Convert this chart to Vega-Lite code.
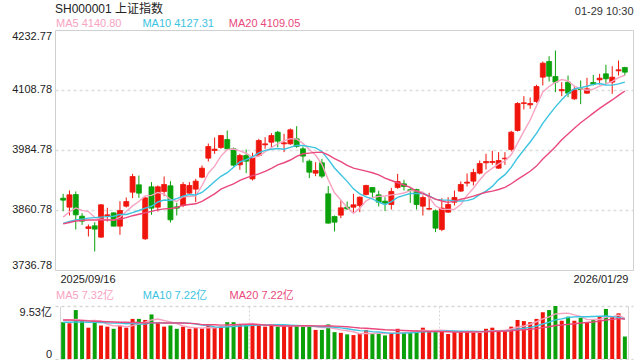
{
 "$schema": "https://vega.github.io/schema/vega-lite/v6.json",
 "background": "white",
 "padding": {"left": 11, "top": 2, "right": 7, "bottom": 1},
 "title": {"text": "01-29 10:30", "anchor": "end", "fontSize": 11, "fontWeight": "normal", "color": "#333", "offset": -14},
 "config": {
  "font": "Liberation Sans, Noto Sans CJK SC, sans-serif",
  "axis": {"labelFont": "Liberation Sans, Noto Sans CJK SC, sans-serif", "labelFontSize": 11, "labelColor": "#333"},
  "legend": {"labelFont": "Liberation Sans, Noto Sans CJK SC, sans-serif", "labelFontSize": 11, "symbolSize": 0, "symbolStrokeWidth": 0},
  "title": {"font": "Liberation Sans, Noto Sans CJK SC, sans-serif"}
 },
 "datasets": {
  "k": [
{"i":1,"d":"2025-09-16","o":3885.2,"h":3894.2,"l":3858.4,"c":3881.1,"v":6.62,"m5":3846,"m10":3833,"m20":3832,"vm5":7.0,"vm10":6.6,"vm20":7.0},
{"i":2,"d":"2025-09-17","o":3866.6,"h":3901.1,"l":3849.4,"c":3892.1,"v":6.42,"m5":3857,"m10":3837,"m20":3835,"vm5":7.0,"vm10":6.6,"vm20":7.0},
{"i":3,"d":"2025-09-18","o":3892.8,"h":3899.1,"l":3820.5,"c":3850.8,"v":8.80,"m5":3865,"m10":3840,"m20":3838,"vm5":7.1,"vm10":6.65,"vm20":6.95},
{"i":4,"d":"2025-09-19","o":3848.0,"h":3854.2,"l":3830.1,"c":3837.7,"v":6.88,"m5":3860,"m10":3842,"m20":3839,"vm5":7.0,"vm10":6.65,"vm20":6.9},
{"i":5,"d":"2025-09-22","o":3822.6,"h":3830.8,"l":3806.0,"c":3826.0,"v":5.63,"m5":3857.5,"m10":3844,"m20":3840,"vm5":6.87,"vm10":6.6,"vm20":6.85},
{"i":6,"d":"2025-09-23","o":3828.1,"h":3835.6,"l":3775.0,"c":3821.2,"v":6.88,"m5":3845.6,"m10":3845,"m20":3840,"vm5":6.92,"vm10":6.6,"vm20":6.8},
{"i":7,"d":"2025-09-24","o":3804.7,"h":3872.8,"l":3803.3,"c":3871.5,"v":6.02,"m5":3841.4,"m10":3846,"m20":3840,"vm5":6.84,"vm10":6.55,"vm20":6.75},
{"i":8,"d":"2025-09-25","o":3848.7,"h":3865.3,"l":3837.0,"c":3850.8,"v":5.82,"m5":3841.4,"m10":3847,"m20":3840,"vm5":6.25,"vm10":6.5,"vm20":6.7},
{"i":9,"d":"2025-09-26","o":3854.9,"h":3855.6,"l":3827.0,"c":3827.4,"v":5.43,"m5":3839.4,"m10":3848,"m20":3840,"vm5":5.96,"vm10":6.45,"vm20":6.65},
{"i":10,"d":"2025-09-29","o":3827.4,"h":3879.0,"l":3809.5,"c":3859.8,"v":5.96,"m5":3846.1,"m10":3851.8,"m20":3842,"vm5":6.02,"vm10":6.45,"vm20":6.6},
{"i":11,"d":"2025-09-30","o":3868.7,"h":3886.6,"l":3865.9,"c":3878.3,"v":5.63,"m5":3857.6,"m10":3851.6,"m20":3845,"vm5":5.77,"vm10":6.35,"vm20":6.6},
{"i":12,"d":"2025-10-09","o":3897.6,"h":3935.5,"l":3885.2,"c":3930.0,"v":7.21,"m5":3869.3,"m10":3855.4,"m20":3849,"vm5":6.01,"vm10":6.43,"vm20":6.55},
{"i":13,"d":"2025-10-10","o":3912.8,"h":3932.1,"l":3885.9,"c":3895.6,"v":7.21,"m5":3878.2,"m10":3859.8,"m20":3852,"vm5":6.29,"vm10":6.27,"vm20":6.55},
{"i":14,"d":"2025-10-13","o":3801.2,"h":3887.3,"l":3799.1,"c":3885.9,"v":7.02,"m5":3889.9,"m10":3864.7,"m20":3855,"vm5":6.61,"vm10":6.28,"vm20":6.5},
{"i":15,"d":"2025-10-14","o":3908.7,"h":3918.4,"l":3850.8,"c":3864.6,"v":8.01,"m5":3890.9,"m10":3868.5,"m20":3858,"vm5":7.02,"vm10":6.52,"vm20":6.5},
{"i":16,"d":"2025-10-15","o":3866.6,"h":3911.5,"l":3857.7,"c":3908.7,"v":6.55,"m5":3897.0,"m10":3877.3,"m20":3861,"vm5":7.20,"vm10":6.49,"vm20":6.5},
{"i":17,"d":"2025-10-16","o":3899.1,"h":3930.0,"l":3889.4,"c":3913.5,"v":5.82,"m5":3893.7,"m10":3881.5,"m20":3863,"vm5":6.92,"vm10":6.47,"vm20":6.48},
{"i":18,"d":"2025-10-17","o":3910.8,"h":3920.4,"l":3834.9,"c":3840.5,"v":6.02,"m5":3882.6,"m10":3880.4,"m20":3864,"vm5":6.68,"vm10":6.49,"vm20":6.47},
{"i":19,"d":"2025-10-20","o":3867.3,"h":3875.6,"l":3849.4,"c":3864.6,"v":5.43,"m5":3878.4,"m10":3884.2,"m20":3866,"vm5":6.37,"vm10":6.49,"vm20":6.46},
{"i":20,"d":"2025-10-21","o":3870.1,"h":3918.4,"l":3866.6,"c":3913.5,"v":5.82,"m5":3888.2,"m10":3889.5,"m20":3870.7,"vm5":5.93,"vm10":6.47,"vm20":6.46},
{"i":21,"d":"2025-10-22","o":3895.6,"h":3918.4,"l":3894.2,"c":3911.5,"v":5.43,"m5":3888.7,"m10":3892.8,"m20":3872.2,"vm5":5.70,"vm10":6.45,"vm20":6.40},
{"i":22,"d":"2025-10-23","o":3903.9,"h":3925.2,"l":3876.9,"c":3920.4,"v":5.56,"m5":3890.1,"m10":3891.9,"m20":3873.6,"vm5":5.65,"vm10":6.29,"vm20":6.36},
{"i":23,"d":"2025-10-24","o":3928.6,"h":3952.8,"l":3926.6,"c":3947.2,"v":5.49,"m5":3911.4,"m10":3897.0,"m20":3878.4,"vm5":5.55,"vm10":6.12,"vm20":6.19},
{"i":24,"d":"2025-10-27","o":3967.9,"h":3998.2,"l":3961.0,"c":3992.0,"v":6.02,"m5":3936.9,"m10":3907.7,"m20":3886.2,"vm5":5.66,"vm10":6.02,"vm20":6.15},
{"i":25,"d":"2025-10-28","o":3983.8,"h":4010.6,"l":3976.9,"c":3986.5,"v":5.63,"m5":3951.5,"m10":3919.8,"m20":3894.2,"vm5":5.63,"vm10":5.78,"vm20":6.15},
{"i":26,"d":"2025-10-29","o":3989.9,"h":4016.1,"l":3987.2,"c":4014.7,"v":5.82,"m5":3972.2,"m10":3930.4,"m20":3903.9,"vm5":5.70,"vm10":5.70,"vm20":6.10},
{"i":27,"d":"2025-10-30","o":4006.5,"h":4025.1,"l":3985.2,"c":3987.2,"v":6.62,"m5":3985.5,"m10":3937.8,"m20":3909.6,"vm5":5.92,"vm10":5.78,"vm20":6.13},
{"i":28,"d":"2025-10-31","o":3987.2,"h":3989.9,"l":3950.7,"c":3953.4,"v":6.62,"m5":3986.8,"m10":3949.1,"m20":3914.8,"vm5":6.14,"vm10":5.84,"vm20":6.17},
{"i":29,"d":"2025-11-03","o":3954.1,"h":3976.9,"l":3943.8,"c":3973.4,"v":6.29,"m5":3983.0,"m10":3960.0,"m20":3922.1,"vm5":6.20,"vm10":5.93,"vm20":6.21},
{"i":30,"d":"2025-11-04","o":3973.4,"h":3985.8,"l":3936.9,"c":3961.7,"v":6.22,"m5":3978.1,"m10":3964.8,"m20":3927.2,"vm5":6.31,"vm10":5.97,"vm20":6.22},
{"i":31,"d":"2025-11-05","o":3925.0,"h":3979.0,"l":3921.8,"c":3969.0,"v":6.09,"m5":3968.9,"m10":3970.6,"m20":3931.7,"vm5":6.37,"vm10":6.04,"vm20":6.24},
{"i":32,"d":"2025-11-06","o":3973.4,"h":4007.9,"l":3971.4,"c":4004.4,"v":6.09,"m5":3972.4,"m10":3979.0,"m20":3935.4,"vm5":6.26,"vm10":6.09,"vm20":6.19},
{"i":33,"d":"2025-11-07","o":3995.5,"h":4011.3,"l":3987.2,"c":3997.5,"v":5.82,"m5":3981.2,"m10":3984.0,"m20":3940.5,"vm5":6.10,"vm10":6.12,"vm20":6.12},
{"i":34,"d":"2025-11-10","o":4000.9,"h":4019.6,"l":3990.6,"c":4014.7,"v":6.15,"m5":3989.5,"m10":3986.3,"m20":3947.0,"vm5":6.07,"vm10":6.14,"vm20":6.08},
{"i":35,"d":"2025-11-11","o":4021.6,"h":4024.4,"l":3990.6,"c":4003.0,"v":5.82,"m5":3997.7,"m10":3987.9,"m20":3953.9,"vm5":5.99,"vm10":6.15,"vm20":5.97},
{"i":36,"d":"2025-11-12","o":3997.5,"h":4018.2,"l":3980.3,"c":3999.6,"v":5.96,"m5":4003.8,"m10":3986.4,"m20":3958.4,"vm5":5.97,"vm10":6.17,"vm20":5.94},
{"i":37,"d":"2025-11-13","o":3997.5,"h":4029.2,"l":3995.5,"c":4026.5,"v":5.96,"m5":4008.3,"m10":3990.3,"m20":3964.1,"vm5":5.94,"vm10":6.10,"vm20":5.94},
{"i":38,"d":"2025-11-14","o":4007.9,"h":4034.0,"l":3989.3,"c":3992.0,"v":6.09,"m5":4007.2,"m10":3994.2,"m20":3971.6,"vm5":6.00,"vm10":6.05,"vm20":5.95},
{"i":39,"d":"2025-11-17","o":3987.2,"h":3992.0,"l":3959.0,"c":3972.1,"v":5.82,"m5":3998.6,"m10":3994.1,"m20":3977.0,"vm5":5.93,"vm10":6.00,"vm20":5.97},
{"i":40,"d":"2025-11-18","o":3961.7,"h":3965.2,"l":3926.6,"c":3939.0,"v":5.82,"m5":3985.8,"m10":3991.8,"m20":3978.3,"vm5":5.93,"vm10":5.96,"vm20":5.97},
{"i":41,"d":"2025-11-19","o":3936.9,"h":3959.6,"l":3930.7,"c":3942.4,"v":5.23,"m5":3974.4,"m10":3989.1,"m20":3979.8,"vm5":5.78,"vm10":5.88,"vm20":5.96},
{"i":42,"d":"2025-11-20","o":3958.3,"h":3966.5,"l":3926.6,"c":3930.7,"v":5.23,"m5":3955.2,"m10":3981.8,"m20":3980.4,"vm5":5.64,"vm10":5.79,"vm20":5.94},
{"i":43,"d":"2025-11-21","o":3894.2,"h":3910.1,"l":3832.9,"c":3833.6,"v":6.22,"m5":3923.6,"m10":3965.4,"m20":3974.7,"vm5":5.66,"vm10":5.83,"vm20":5.98},
{"i":44,"d":"2025-11-24","o":3847.3,"h":3849.4,"l":3816.4,"c":3835.6,"v":4.83,"m5":3896.3,"m10":3947.5,"m20":3966.9,"vm5":5.47,"vm10":5.70,"vm20":5.92},
{"i":45,"d":"2025-11-25","o":3850.1,"h":3881.1,"l":3843.9,"c":3865.3,"v":4.70,"m5":3881.5,"m10":3933.7,"m20":3960.8,"vm5":5.24,"vm10":5.59,"vm20":5.87},
{"i":46,"d":"2025-11-26","o":3866.6,"h":3878.3,"l":3861.1,"c":3863.2,"v":4.43,"m5":3865.7,"m10":3920.0,"m20":3953.2,"vm5":5.08,"vm10":5.43,"vm20":5.80},
{"i":47,"d":"2025-11-27","o":3866.6,"h":3894.2,"l":3856.3,"c":3871.5,"v":4.30,"m5":3853.8,"m10":3904.5,"m20":3947.4,"vm5":4.90,"vm10":5.27,"vm20":5.68},
{"i":48,"d":"2025-11-28","o":3870.1,"h":3888.7,"l":3856.3,"c":3887.3,"v":4.50,"m5":3864.6,"m10":3894.1,"m20":3944.1,"vm5":4.55,"vm10":5.11,"vm20":5.58},
{"i":49,"d":"2025-12-01","o":3892.8,"h":3912.8,"l":3890.8,"c":3911.5,"v":5.23,"m5":3879.8,"m10":3888.0,"m20":3941.0,"vm5":4.63,"vm10":5.05,"vm20":5.53},
{"i":50,"d":"2025-12-02","o":3907.3,"h":3908.0,"l":3887.3,"c":3897.6,"v":4.50,"m5":3886.2,"m10":3883.9,"m20":3937.8,"vm5":4.59,"vm10":4.92,"vm20":5.44},
{"i":51,"d":"2025-12-03","o":3892.1,"h":3900.5,"l":3868.0,"c":3876.9,"v":4.57,"m5":3889.0,"m10":3877.3,"m20":3933.2,"vm5":4.62,"vm10":4.85,"vm20":5.36},
{"i":52,"d":"2025-12-04","o":3879.0,"h":3887.3,"l":3858.4,"c":3874.9,"v":4.24,"m5":3889.6,"m10":3871.7,"m20":3926.7,"vm5":4.61,"vm10":4.75,"vm20":5.27},
{"i":53,"d":"2025-12-05","o":3872.1,"h":3906.6,"l":3861.8,"c":3899.1,"v":4.70,"m5":3892.0,"m10":3878.3,"m20":3921.8,"vm5":4.65,"vm10":4.60,"vm20":5.22},
{"i":54,"d":"2025-12-08","o":3907.3,"h":3935.5,"l":3904.6,"c":3919.7,"v":5.43,"m5":3893.6,"m10":3886.7,"m20":3917.1,"vm5":4.69,"vm10":4.66,"vm20":5.18},
{"i":55,"d":"2025-12-09","o":3914.9,"h":3923.1,"l":3901.1,"c":3909.4,"v":4.83,"m5":3896.0,"m10":3891.1,"m20":3912.4,"vm5":4.75,"vm10":4.67,"vm20":5.13},
{"i":56,"d":"2025-12-10","o":3902.5,"h":3906.0,"l":3875.6,"c":3901.1,"v":4.83,"m5":3900.8,"m10":3894.9,"m20":3907.5,"vm5":4.81,"vm10":4.71,"vm20":5.07},
{"i":57,"d":"2025-12-11","o":3903.2,"h":3904.6,"l":3861.8,"c":3872.1,"v":5.10,"m5":3900.3,"m10":3895.0,"m20":3899.8,"vm5":4.98,"vm10":4.79,"vm20":5.03},
{"i":58,"d":"2025-12-12","o":3868.7,"h":3890.8,"l":3849.4,"c":3886.6,"v":5.63,"m5":3897.8,"m10":3894.9,"m20":3894.5,"vm5":5.16,"vm10":4.91,"vm20":5.01},
{"i":59,"d":"2025-12-15","o":3862.5,"h":3896.3,"l":3861.8,"c":3863.9,"v":5.10,"m5":3886.6,"m10":3890.1,"m20":3889.1,"vm5":5.10,"vm10":4.89,"vm20":4.97},
{"i":60,"d":"2025-12-16","o":3859.1,"h":3861.8,"l":3815.0,"c":3823.2,"v":5.10,"m5":3869.4,"m10":3882.7,"m20":3883.3,"vm5":5.15,"vm10":4.95,"vm20":4.94},
{"i":61,"d":"2025-12-17","o":3820.5,"h":3885.2,"l":3817.0,"c":3864.6,"v":5.03,"m5":3862.1,"m10":3881.5,"m20":3879.4,"vm5":5.19,"vm10":5.00,"vm20":4.93},
{"i":62,"d":"2025-12-18","o":3856.3,"h":3887.3,"l":3854.9,"c":3872.1,"v":4.50,"m5":3862.1,"m10":3881.2,"m20":3876.5,"vm5":5.07,"vm10":5.03,"vm20":4.89},
{"i":63,"d":"2025-12-19","o":3876.9,"h":3901.1,"l":3870.1,"c":3886.6,"v":4.96,"m5":3862.1,"m10":3879.9,"m20":3879.1,"vm5":4.94,"vm10":5.05,"vm20":4.83},
{"i":64,"d":"2025-12-22","o":3899.8,"h":3919.7,"l":3898.4,"c":3913.5,"v":4.96,"m5":3872.0,"m10":3879.3,"m20":3883.0,"vm5":4.91,"vm10":5.00,"vm20":4.83},
{"i":65,"d":"2025-12-23","o":3916.3,"h":3936.2,"l":3909.4,"c":3918.4,"v":5.03,"m5":3891.0,"m10":3880.2,"m20":3885.7,"vm5":4.90,"vm10":5.02,"vm20":4.85},
{"i":66,"d":"2025-12-24","o":3920.4,"h":3945.9,"l":3911.5,"c":3938.3,"v":4.70,"m5":3905.8,"m10":3883.9,"m20":3889.4,"vm5":4.83,"vm10":5.01,"vm20":4.86},
{"i":67,"d":"2025-12-25","o":3936.9,"h":3963.1,"l":3934.2,"c":3956.9,"v":4.70,"m5":3922.7,"m10":3892.4,"m20":3893.7,"vm5":4.87,"vm10":4.97,"vm20":4.88},
{"i":68,"d":"2025-12-26","o":3958.3,"h":3976.9,"l":3944.5,"c":3961.0,"v":5.43,"m5":3937.6,"m10":3899.9,"m20":3897.4,"vm5":4.96,"vm10":4.95,"vm20":4.93},
{"i":69,"d":"2025-12-29","o":3959.0,"h":3983.1,"l":3954.1,"c":3961.0,"v":5.63,"m5":3947.1,"m10":3909.6,"m20":3899.8,"vm5":5.10,"vm10":5.00,"vm20":4.95},
{"i":70,"d":"2025-12-30","o":3947.2,"h":3980.3,"l":3945.9,"c":3963.1,"v":5.10,"m5":3956.1,"m10":3923.6,"m20":3903.1,"vm5":5.11,"vm10":5.00,"vm20":4.98},
{"i":71,"d":"2025-12-31","o":3966.5,"h":3980.3,"l":3954.1,"c":3967.9,"v":4.96,"m5":3962.0,"m10":3933.9,"m20":3907.7,"vm5":5.16,"vm10":5.00,"vm20":5.00},
{"i":72,"d":"2026-01-05","o":3985.8,"h":4024.4,"l":3981.7,"c":4021.6,"v":5.82,"m5":3974.9,"m10":3948.8,"m20":3915.0,"vm5":5.39,"vm10":5.13,"vm20":5.08},
{"i":73,"d":"2026-01-06","o":4025.1,"h":4083.6,"l":4023.0,"c":4080.9,"v":7.02,"m5":3998.9,"m10":3968.3,"m20":3924.1,"vm5":5.71,"vm10":5.34,"vm20":5.19},
{"i":74,"d":"2026-01-07","o":4080.9,"h":4096.0,"l":4068.5,"c":4082.3,"v":6.82,"m5":4023.2,"m10":3985.1,"m20":3932.2,"vm5":5.94,"vm10":5.52,"vm20":5.26},
{"i":75,"d":"2026-01-08","o":4078.1,"h":4093.3,"l":4069.9,"c":4080.9,"v":6.62,"m5":4046.7,"m10":4001.4,"m20":3940.8,"vm5":6.25,"vm10":5.68,"vm20":5.35},
{"i":76,"d":"2026-01-09","o":4085.0,"h":4119.5,"l":4082.3,"c":4116.0,"v":7.21,"m5":4076.3,"m10":4019.2,"m20":3951.5,"vm5":6.70,"vm10":5.93,"vm20":5.47},
{"i":77,"d":"2026-01-12","o":4135.3,"h":4167.7,"l":4118.1,"c":4164.2,"v":8.41,"m5":4104.9,"m10":4039.9,"m20":3966.2,"vm5":7.22,"vm10":6.30,"vm20":5.64},
{"i":78,"d":"2026-01-13","o":4167.7,"h":4178.7,"l":4126.3,"c":4137.3,"v":8.80,"m5":4116.1,"m10":4057.5,"m20":3978.7,"vm5":7.57,"vm10":6.64,"vm20":5.80},
{"i":79,"d":"2026-01-14","o":4136.7,"h":4190.4,"l":4104.3,"c":4125.0,"v":9.53,"m5":4124.7,"m10":4073.9,"m20":3991.7,"vm5":8.11,"vm10":7.03,"vm20":6.02},
{"i":80,"d":"2026-01-15","o":4107.1,"h":4125.0,"l":4096.0,"c":4109.8,"v":6.88,"m5":4130.5,"m10":4088.6,"m20":4006.1,"vm5":8.17,"vm10":7.21,"vm20":6.11},
{"i":81,"d":"2026-01-16","o":4125.0,"h":4138.7,"l":4094.0,"c":4102.2,"v":7.61,"m5":4127.7,"m10":4102.0,"m20":4018.0,"vm5":8.25,"vm10":7.47,"vm20":6.23},
{"i":82,"d":"2026-01-19","o":4090.5,"h":4114.6,"l":4088.5,"c":4109.1,"v":6.88,"m5":4116.7,"m10":4110.8,"m20":4029.8,"vm5":7.94,"vm10":7.58,"vm20":6.35},
{"i":83,"d":"2026-01-20","o":4111.2,"h":4128.4,"l":4079.5,"c":4109.8,"v":7.41,"m5":4111.2,"m10":4113.7,"m20":4041.0,"vm5":7.66,"vm10":7.62,"vm20":6.48},
{"i":84,"d":"2026-01-21","o":4102.2,"h":4133.9,"l":4100.9,"c":4111.2,"v":6.62,"m5":4108.4,"m10":4116.6,"m20":4050.8,"vm5":7.08,"vm10":7.60,"vm20":6.56},
{"i":85,"d":"2026-01-22","o":4124.3,"h":4140.0,"l":4118.1,"c":4120.8,"v":7.02,"m5":4110.6,"m10":4120.5,"m20":4061.0,"vm5":7.11,"vm10":7.64,"vm20":6.66},
{"i":86,"d":"2026-01-23","o":4129.8,"h":4142.2,"l":4120.1,"c":4133.2,"v":7.61,"m5":4116.8,"m10":4122.3,"m20":4070.7,"vm5":7.11,"vm10":7.68,"vm20":6.80},
{"i":87,"d":"2026-01-26","o":4142.2,"h":4160.8,"l":4121.5,"c":4131.9,"v":9.00,"m5":4121.4,"m10":4119.0,"m20":4079.5,"vm5":7.53,"vm10":7.74,"vm20":7.02},
{"i":88,"d":"2026-01-27","o":4125.0,"h":4158.0,"l":4100.9,"c":4135.3,"v":7.61,"m5":4126.5,"m10":4118.8,"m20":4088.2,"vm5":7.57,"vm10":7.62,"vm20":7.13},
{"i":89,"d":"2026-01-28","o":4148.4,"h":4169.7,"l":4138.7,"c":4150.5,"v":8.21,"m5":4134.3,"m10":4121.4,"m20":4097.7,"vm5":7.89,"vm10":7.49,"vm20":7.26},
{"i":90,"d":"2026-01-29","o":4155.3,"h":4156.7,"l":4138.7,"c":4145.6,"v":4.04,"m5":4139.3,"m10":4125.0,"m20":4106.8,"vm5":7.29,"vm10":7.20,"vm20":7.20}
  ],
  "wm": [{"t": "sina.com"}]
 },
 "spacing": 5,
 "resolve": {"scale": {"color": "independent", "y": "independent"}, "legend": {"color": "independent"}},
 "vconcat": [
  {
   "width": 578,
   "height": 240,
   "view": {"stroke": "#d0d0d0"},
   "title": {"text": "SH000001 上证指数", "anchor": "start", "frame": "group", "fontSize": 12, "fontWeight": "normal", "color": "#222", "offset": 2},
   "data": {"name": "k"},
   "encoding": {
    "x": {"field": "i", "type": "quantitative", "scale": {"domain": [0.5, 90.5], "nice": false, "zero": false},
      "axis": {"values": [0.5, 90.5], "labelExpr": "datum.value < 1 ? '2025/09/16' : '2026/01/29'", "labelFlush": false, "labelAlign": {"condition": {"test": "datum.value < 1", "value": "left"}, "value": "right"}, "labelBound": false, "labelOverlap": false, "ticks": false, "domain": false, "grid": false, "labelPadding": 3, "title": null, "labelColor": "#222"}}
   },
   "layer": [
    {
     "mark": {"type": "rule", "strokeWidth": 1},
     "encoding": {
      "y": {"field": "l", "type": "quantitative", "scale": {"domain": [3736.78, 4232.77], "nice": false, "zero": false},
        "axis": {"values": [3736.78, 3860.78, 3984.78, 4108.78, 4232.77], "format": ".2f", "labelFlush": true, "ticks": false, "domain": false, "grid": true, "gridDash": [3, 3], "gridColor": "#dcdcdc", "gridWidth": 1.5, "gridOpacity": {"condition": {"test": "datum.value < 3740 || datum.value > 4230", "value": 0}, "value": 1}, "labelPadding": 3.5, "title": null, "labelColor": "#222"}},
      "y2": {"field": "h"},
      "color": {"condition": {"test": "datum.c >= datum.o", "value": "#f0150c"}, "value": "#0ba10b"}
     }
    },
    {
     "mark": {"type": "bar", "size": 5, "strokeWidth": 0.8},
     "encoding": {
      "y": {"field": "o", "type": "quantitative"},
      "y2": {"field": "c"},
      "color": {"condition": {"test": "datum.c >= datum.o", "value": "#f0150c"}, "value": "#0ba10b"},
      "stroke": {"condition": {"test": "datum.c >= datum.o", "value": "#f0150c"}, "value": "#0ba10b"}
     }
    },
    {
     "transform": [{"fold": ["m5", "m10", "m20"], "as": ["key", "val"]}],
     "mark": {"type": "line", "strokeWidth": 1.4},
     "encoding": {
      "y": {"field": "val", "type": "quantitative"},
      "color": {"field": "key", "type": "nominal", "scale": {"domain": ["m5", "m10", "m20"], "range": ["#f7a3c2", "#3cc3e0", "#e9497d"]},
        "legend": {"orient": "top", "direction": "horizontal", "title": null, "labelExpr": "datum.value == 'm5' ? 'MA5 4140.80' : datum.value == 'm10' ? 'MA10 4127.31' : 'MA20 4109.05'", "symbolSize": 0, "symbolStrokeWidth": 0, "symbolOpacity": 0, "labelOffset": -10, "gridAlign": "all", "columnPadding": 13.4, "offset": 1, "padding": 0,
          "encode": {"symbols": {"update": {"size": {"value": 0}, "strokeWidth": {"value": 0}}}, "labels": {"update": {"fill": {"signal": "datum.value == 'm5' ? '#f7a3c2' : datum.value == 'm10' ? '#3cc3e0' : '#e9497d'"}}}}}}
     }
    },
    {
     "data": {"name": "wm"},
     "mark": {"type": "text", "fontSize": 10.5, "color": "#c8c8c8", "align": "center", "baseline": "middle"},
     "encoding": {
      "x": {"datum": 85.75, "type": "quantitative"},
      "y": {"datum": 3779, "type": "quantitative"},
      "text": {"field": "t"}
     }
    }
   ]
  },
  {
   "width": 578,
   "height": 53,
   "view": {"stroke": null},
   "data": {"name": "k"},
   "encoding": {
    "x": {"field": "i", "type": "quantitative", "scale": {"domain": [0.5, 90.5], "nice": false, "zero": false},
      "axis": {"values": [0.5, 30.5, 60.5, 90.5], "labels": false, "ticks": false, "domain": false, "grid": true, "gridColor": "#d6d6d6", "gridDash": {"condition": {"test": "datum.value < 1 || datum.value > 90", "value": []}, "value": [2, 2]}, "title": null}}
   },
   "layer": [
    {
     "mark": {"type": "bar", "size": 4},
     "encoding": {
      "y": {"field": "v", "type": "quantitative", "scale": {"domain": [0, 9.53], "nice": false},
        "axis": {"values": [0, 9.53], "labelExpr": "datum.value == 0 ? '0' : '9.53亿'", "labelFlush": true, "ticks": false, "domain": false, "grid": true, "gridDash": [3, 3], "gridColor": "#d6d6d6", "gridWidth": 1.5, "labelPadding": 3.5, "title": null, "labelColor": "#222"}},
      "color": {"condition": {"test": "datum.c >= datum.o", "value": "#f0150c"}, "value": "#0ba10b"}
     }
    },
    {
     "transform": [{"fold": ["vm5", "vm10", "vm20"], "as": ["key", "val"]}],
     "mark": {"type": "line", "strokeWidth": 1.4},
     "encoding": {
      "y": {"field": "val", "type": "quantitative"},
      "color": {"field": "key", "type": "nominal", "scale": {"domain": ["vm5", "vm10", "vm20"], "range": ["#f7a3c2", "#3cc3e0", "#e9497d"]},
        "legend": {"orient": "top", "direction": "horizontal", "title": null, "labelExpr": "datum.value == 'vm5' ? 'MA5 7.32亿' : datum.value == 'vm10' ? 'MA10 7.22亿' : 'MA20 7.22亿'", "symbolSize": 0, "symbolStrokeWidth": 0, "symbolOpacity": 0, "labelOffset": -10, "gridAlign": "all", "columnPadding": 20.8, "offset": 5, "padding": 0,
          "encode": {"symbols": {"update": {"size": {"value": 0}, "strokeWidth": {"value": 0}}}, "labels": {"update": {"fill": {"signal": "datum.value == 'vm5' ? '#f7a3c2' : datum.value == 'vm10' ? '#3cc3e0' : '#e9497d'"}}}}}}
     }
    }
   ]
  }
 ]
}
